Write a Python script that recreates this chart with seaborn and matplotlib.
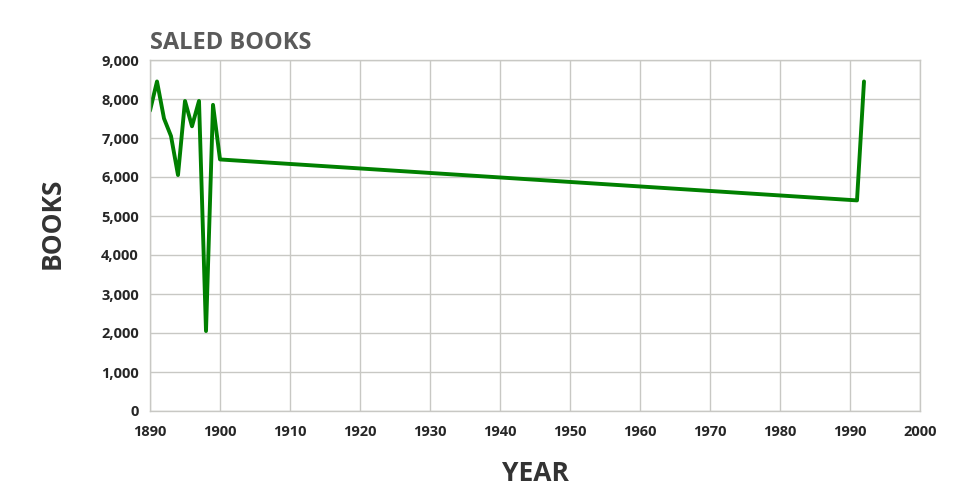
import matplotlib
matplotlib.use('Agg')
import matplotlib.pyplot as plt
import seaborn as sns
import pandas as pd

# --- DATA ---
years = [1890, 1891, 1892, 1893, 1894, 1895, 1896, 1897, 1898, 1899, 1900, 1991, 1992]
books = [7700, 8450, 7500, 7050, 6050, 7950, 7300, 7950, 2050, 7850, 6450, 5400, 8450]
x_ticks = list(range(1890, 2001, 10))
y_ticks = list(range(0, 9001, 1000))

df = pd.DataFrame({'year': years, 'books': books})

sns.set_style('white')
plt.rcParams['font.family'] = ['Open Sans', 'DejaVu Sans']

fig = plt.figure(figsize=(9.6, 5), dpi=100)
ax = fig.add_axes([150 / 960, 89 / 500, 770 / 960, 351 / 500])

sns.lineplot(data=df, x='year', y='books', color='#008000', linewidth=2.8, ax=ax)

ax.set_xlim(1890, 2000)
ax.set_ylim(0, 9000)
ax.set_xticks(x_ticks)
ax.set_yticks(y_ticks)
ax.set_xticklabels([str(t) for t in x_ticks], fontsize=10.5, fontweight='bold')
ax.set_yticklabels([f'{t:,}' for t in y_ticks], fontsize=10.5, fontweight='bold')
ax.tick_params(axis='both', length=0, pad=8)
ax.tick_params(axis='x', pad=10)

ax.grid(True, color='#c8c8c4', linewidth=1)
ax.set_axisbelow(True)
for s in ax.spines.values():
    s.set_color('#c8c8c4')
    s.set_linewidth(1)

ax.set_xlabel('YEAR', fontsize=19, fontweight='bold', color='#333333', labelpad=15)
ax.set_ylabel('BOOKS', fontsize=19, fontweight='bold', color='#333333', va='center')
ax.yaxis.set_label_coords(-0.127, 0.536)
ax.set_title('SALED BOOKS', loc='left', fontsize=17, fontweight='bold', color='#5a5a5a', pad=8)

plt.savefig('out.png', dpi=100)
